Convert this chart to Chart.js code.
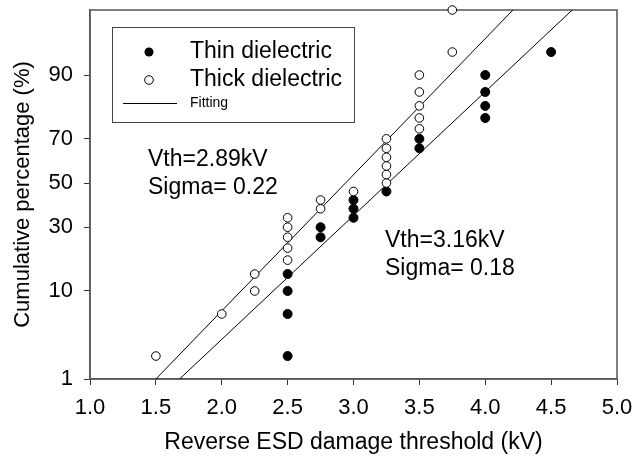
<!DOCTYPE html>
<html>
<head>
<meta charset="utf-8">
<script src="https://cdn.jsdelivr.net/npm/chart.js@4"></script>
<style>
  body { margin: 0; background: #fff; }
  #wrap { width: 634px; height: 462px; }
</style>
</head>
<body>
<div id="wrap"><canvas id="canvas1" width="634" height="462"></canvas></div>
<script>
// breakdown voltages (kV) and cumulative percentage (%)
const thinV = [2.5, 2.5, 2.5, 2.5, 2.75, 2.75, 3.0, 3.0, 3.0, 3.25, 3.5, 3.5, 4.0, 4.0, 4.0, 4.0, 4.5]
const thinPct = [2, 6, 10, 14, 26, 30, 34, 38, 42, 46, 66, 70, 78, 82, 86, 90, 94]

const thickV = [1.5, 2.0, 2.25, 2.25, 2.5, 2.5, 2.5, 2.5, 2.5, 2.75, 2.75, 3.0,
  3.25, 3.25, 3.25, 3.25, 3.25, 3.25, 3.5, 3.5, 3.5, 3.5, 3.5, 3.75, 3.75]
const thickPct = [2, 6, 10, 14, 18, 22, 26, 30, 34, 38, 42, 46,
  50, 54, 58, 62, 66, 70, 74, 78, 82, 86, 90, 94, 98]

// fitted lines, end points
const thickFitV = [1.5, 4.21]
const thickFitPct = [1, 98]
const thinFitV = [1.68, 4.66]
const thinFitPct = [1, 98]

const xTicks = [1.0, 1.5, 2.0, 2.5, 3.0, 3.5, 4.0, 4.5, 5.0]
const yTicks = [1, 10, 30, 50, 70, 90]
const yMinPct = 1
const yMaxPct = 98

// inverse normal cdf (Acklam), used for the probability axis
function probit(p) {
  const a = [-3.969683028665376e+01, 2.209460984245205e+02, -2.759285104469687e+02, 1.383577518672690e+02, -3.066479806614716e+01, 2.506628277459239e+00]
  const b = [-5.447609879822406e+01, 1.615858368580409e+02, -1.556989798598866e+02, 6.680131188771972e+01, -1.328068155288572e+01]
  const c = [-7.784894002430293e-03, -3.223964580411365e-01, -2.400758277161838e+00, -2.549732539343734e+00, 4.374664141464968e+00, 2.938163982698783e+00]
  const d = [7.784695709041462e-03, 3.224671290700398e-01, 2.445134137142996e+00, 3.754408661907416e+00]
  const plow = 0.02425
  let q, r
  if (p < plow) {
    q = Math.sqrt(-2 * Math.log(p))
    return (((((c[0]*q+c[1])*q+c[2])*q+c[3])*q+c[4])*q+c[5]) / ((((d[0]*q+d[1])*q+d[2])*q+d[3])*q+1)
  }
  if (p > 1 - plow) {
    q = Math.sqrt(-2 * Math.log(1 - p))
    return -(((((c[0]*q+c[1])*q+c[2])*q+c[3])*q+c[4])*q+c[5]) / ((((d[0]*q+d[1])*q+d[2])*q+d[3])*q+1)
  }
  q = p - 0.5
  r = q * q
  return (((((a[0]*r+a[1])*r+a[2])*r+a[3])*r+a[4])*r+a[5])*q / (((((b[0]*r+b[1])*r+b[2])*r+b[3])*r+b[4])*r+1)
}

const toPoints = (xs, pcts) => xs.map((x, i) => ({ x: x, y: probit(pcts[i] / 100) }))

const FONT = 'Liberation Sans, Arial, sans-serif'
Chart.defaults.font.family = FONT
Chart.defaults.color = '#000'

// box around the plot, legend and fit results
const extras = {
  id: 'extras',
  beforeDatasetsDraw(chart) {
    const { ctx, chartArea: a } = chart
    ctx.save()
    ctx.strokeStyle = '#555'
    ctx.lineWidth = 1.5
    ctx.strokeRect(a.left, a.top, a.right - a.left, a.bottom - a.top)
    ctx.restore()
  },
  afterDraw(chart) {
    const ctx = chart.ctx
    ctx.save()
    // legend
    ctx.strokeStyle = '#444'
    ctx.lineWidth = 1
    ctx.strokeRect(112.5, 27.5, 242, 95)
    ctx.fillStyle = '#000'
    ctx.beginPath(); ctx.arc(149, 52, 4.5, 0, Math.PI * 2); ctx.fill()
    ctx.fillStyle = '#fff'; ctx.strokeStyle = '#000'
    ctx.beginPath(); ctx.arc(149, 80, 4.3, 0, Math.PI * 2); ctx.fill(); ctx.stroke()
    ctx.beginPath(); ctx.moveTo(123, 103.5); ctx.lineTo(177, 103.5); ctx.stroke()
    ctx.fillStyle = '#000'
    ctx.textBaseline = 'middle'
    ctx.font = '23px ' + FONT
    ctx.fillText('Thin dielectric', 190, 52)
    ctx.fillText('Thick dielectric', 190, 80)
    ctx.font = '14px ' + FONT
    ctx.fillText('Fitting', 190, 103)
    // fit results
    ctx.font = '23px ' + FONT
    ctx.fillText('Vth=2.89kV', 148, 160)
    ctx.fillText('Sigma= 0.22', 148, 188)
    ctx.fillText('Vth=3.16kV', 385, 241)
    ctx.fillText('Sigma= 0.18', 385, 269)
    ctx.restore()
  }
}

const ctx1 = document.getElementById('canvas1').getContext('2d')

const myChart = new Chart(ctx1, {
  type: 'scatter',
  data: {
    datasets: [
      {
        label: 'Thick dielectric',
        data: toPoints(thickV, thickPct),
        pointRadius: 4.3,
        pointBackgroundColor: '#fff',
        pointBorderColor: '#000',
        pointBorderWidth: 1,
        clip: false,
        order: 0
      },
      {
        label: 'Thin dielectric',
        data: toPoints(thinV, thinPct),
        pointRadius: 4.5,
        pointBackgroundColor: '#000',
        pointBorderColor: '#000',
        pointBorderWidth: 1,
        clip: false,
        order: 1
      },
      {
        label: 'Fitting',
        data: toPoints(thickFitV, thickFitPct),
        showLine: true,
        pointRadius: 0,
        borderColor: '#000',
        borderWidth: 1,
        order: 2
      },
      {
        label: 'Fitting',
        data: toPoints(thinFitV, thinFitPct),
        showLine: true,
        pointRadius: 0,
        borderColor: '#000',
        borderWidth: 1,
        order: 2
      }
    ]
  },
  options: {
    responsive: false,
    animation: false,
    layout: { padding: { top: 10, right: 17, left: 0, bottom: 0 } },
    plugins: {
      legend: { display: false },
      tooltip: { enabled: false }
    },
    scales: {
      x: {
        type: 'linear',
        min: 1,
        max: 5,
        afterFit: s => { s.height = 83; s.paddingLeft = 0; s.paddingRight = 0 },
        afterBuildTicks: s => { s.ticks = xTicks.map(v => ({ value: v })) },
        border: { display: true, color: '#555', width: 1.5 },
        grid: { display: true, drawOnChartArea: false, drawTicks: true, tickLength: 6, color: '#333' },
        ticks: {
          autoSkip: false,
          maxRotation: 0,
          padding: 10,
          font: { size: 22 },
          callback: v => Number(v).toFixed(1)
        },
        title: {
          display: true,
          text: 'Reverse ESD damage threshold (kV)',
          font: { size: 23 },
          padding: { top: 0, bottom: 6 }
        }
      },
      y: {
        type: 'linear',
        min: probit(yMinPct / 100),
        max: probit(yMaxPct / 100),
        afterFit: s => { s.width = 90; s.paddingTop = 0; s.paddingBottom = 0 },
        afterBuildTicks: s => { s.ticks = yTicks.map(p => ({ value: probit(p / 100) })) },
        border: { display: true, color: '#555', width: 1.5 },
        grid: { display: true, drawOnChartArea: false, drawTicks: true, tickLength: 6, color: '#333' },
        ticks: {
          autoSkip: false,
          padding: 11,
          font: { size: 22 },
          callback: (v, i) => String(yTicks[i])
        },
        title: {
          display: true,
          text: 'Cumulative percentage (%)',
          font: { size: 22 },
          padding: { top: 10, bottom: 0 }
        }
      }
    }
  },
  plugins: [extras]
})
</script>
</body>
</html>
